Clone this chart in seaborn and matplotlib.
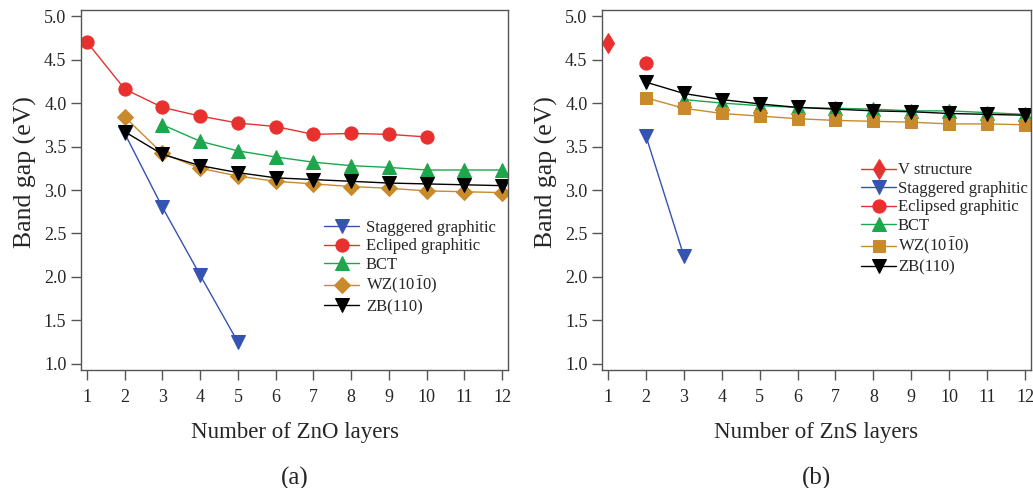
import matplotlib
matplotlib.use("Agg")
import matplotlib.pyplot as plt
import seaborn as sns

# ZnO panel (a)
zno_stag_x = [2, 3, 4, 5]
zno_stag_y = [3.65, 2.80, 2.02, 1.25]
zno_ecl_x = [1, 2, 3, 4, 5, 6, 7, 8, 9, 10]
zno_ecl_y = [4.70, 4.16, 3.95, 3.85, 3.77, 3.73, 3.64, 3.65, 3.64, 3.61]
zno_bct_x = [3, 4, 5, 6, 7, 8, 9, 10, 11, 12]
zno_bct_y = [3.75, 3.56, 3.45, 3.38, 3.32, 3.28, 3.26, 3.23, 3.23, 3.23]
zno_wz_x = [2, 3, 4, 5, 6, 7, 8, 9, 10, 11, 12]
zno_wz_y = [3.84, 3.42, 3.25, 3.16, 3.10, 3.07, 3.04, 3.02, 2.99, 2.98, 2.97]
zno_zb_x = [2, 3, 4, 5, 6, 7, 8, 9, 10, 11, 12]
zno_zb_y = [3.67, 3.41, 3.28, 3.20, 3.14, 3.12, 3.10, 3.08, 3.07, 3.06, 3.05]

# ZnS panel (b)
zns_v_x = [1]
zns_v_y = [4.69]
zns_stag_x = [2, 3]
zns_stag_y = [3.62, 2.24]
zns_ecl_x = [2]
zns_ecl_y = [4.46]
zns_bct_x = [3, 4, 5, 6, 7, 8, 9, 10, 11, 12]
zns_bct_y = [4.04, 4.00, 3.97, 3.95, 3.94, 3.93, 3.91, 3.91, 3.89, 3.87]
zns_wz_x = [2, 3, 4, 5, 6, 7, 8, 9, 10, 11, 12]
zns_wz_y = [4.06, 3.94, 3.88, 3.85, 3.82, 3.80, 3.79, 3.78, 3.76, 3.76, 3.75]
zns_zb_x = [2, 3, 4, 5, 6, 7, 8, 9, 10, 11, 12]
zns_zb_y = [4.24, 4.11, 4.04, 3.99, 3.95, 3.93, 3.91, 3.90, 3.88, 3.87, 3.86]

BLUE = "#3553b0"
RED = "#e8312f"
GREEN = "#1ea64c"
BROWN = "#c98a2c"
BLACK = "#000000"
WZ_LABEL = r"WZ(10$\bar{1}$0)"

sns.set_style("ticks")
plt.rcParams["font.family"] = ["Liberation Serif", "DejaVu Serif"]
plt.rcParams["mathtext.fontset"] = "custom"
plt.rcParams["mathtext.rm"] = "Liberation Serif"
plt.rcParams["mathtext.it"] = "Liberation Serif:italic"
plt.rcParams["axes.edgecolor"] = "#555555"

fig = plt.figure(figsize=(10.33, 4.88), dpi=100)
ax1 = fig.add_axes([0.0784, 0.2418, 0.4134, 0.7377])
ax2 = fig.add_axes([0.5828, 0.2418, 0.4153, 0.7377])


def draw(ax, x, y, color, marker, label, ms=9.5):
    sns.lineplot(x=x, y=y, ax=ax, color=color, marker=marker, markersize=ms,
                 markeredgecolor=color, linewidth=1.0, label=label, sort=False)


draw(ax1, zno_stag_x, zno_stag_y, BLUE, "v", "Staggered graphitic")
draw(ax1, zno_ecl_x, zno_ecl_y, RED, "o", "Ecliped graphitic")
draw(ax1, zno_bct_x, zno_bct_y, GREEN, "^", "BCT")
draw(ax1, zno_wz_x, zno_wz_y, BROWN, "D", WZ_LABEL, ms=8.5)
draw(ax1, zno_zb_x, zno_zb_y, BLACK, "v", "ZB(110)")

draw(ax2, zns_v_x, zns_v_y, RED, "d", "V structure", ms=10)
draw(ax2, zns_stag_x, zns_stag_y, BLUE, "v", "Staggered graphitic")
draw(ax2, zns_ecl_x, zns_ecl_y, RED, "o", "Eclipsed graphitic")
draw(ax2, zns_bct_x, zns_bct_y, GREEN, "^", "BCT")
draw(ax2, zns_wz_x, zns_wz_y, BROWN, "s", WZ_LABEL, ms=8.5)
draw(ax2, zns_zb_x, zns_zb_y, BLACK, "v", "ZB(110)")

for ax, xlab, tag in [(ax1, "Number of ZnO layers", "(a)"),
                      (ax2, "Number of ZnS layers", "(b)")]:
    ax.set_xlim(0.84, 12.16)
    ax.set_ylim(0.93, 5.07)
    ax.set_xticks(range(1, 13))
    ax.set_yticks([1.0, 1.5, 2.0, 2.5, 3.0, 3.5, 4.0, 4.5, 5.0])
    ax.set_yticklabels([f"{v:.1f}" for v in ax.get_yticks()])
    ax.tick_params(direction="out", length=7, width=1, labelsize=13,
                   color="#555555")
    ax.tick_params(axis="x", pad=7)
    for s in ax.spines.values():
        s.set_linewidth(1.0)
    ax.set_ylabel("Band gap (eV)", fontsize=18.5)
    ax.yaxis.set_label_coords(-0.102, 0.55)
    ax.set_xlabel(xlab, fontsize=16.5, labelpad=11)
    ax.text(0.5, -0.30, tag, transform=ax.transAxes, ha="center",
            va="center", fontsize=18)

ax1.legend(loc="upper left", bbox_to_anchor=(0.55, 0.44), frameon=False,
           fontsize=12, handlelength=2.1, handletextpad=0.4,
           labelspacing=0.15, borderpad=0)
ax2.legend(loc="upper left", bbox_to_anchor=(0.585, 0.6), frameon=False,
           fontsize=12, handlelength=2.1, handletextpad=0.1,
           labelspacing=0.15, borderpad=0)

fig.savefig("out.png", dpi=100)
